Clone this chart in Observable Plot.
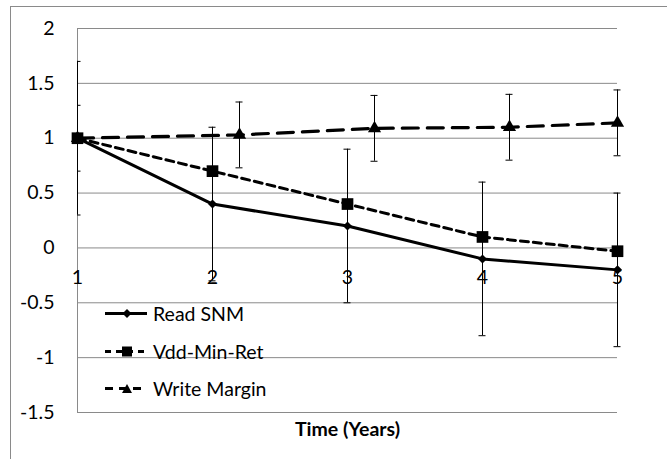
<!DOCTYPE html>
<html><head><meta charset="utf-8">
<script src="https://cdn.jsdelivr.net/npm/d3@7"></script>
<script src="https://cdn.jsdelivr.net/npm/@observablehq/plot@0.6"></script>
<style>
body{margin:0;background:#fff;font-family:Lato,sans-serif;}
#wrap{position:relative;width:667px;height:459px;overflow:hidden;}
#frame{position:absolute;left:10px;top:6px;width:700px;height:500px;border-left:1px solid #8a8a8a;border-top:1px solid #8a8a8a;}
#chart{position:absolute;left:0;top:0;}
#legend{position:absolute;left:103px;top:295px;font-size:19.5px;color:#000;}
.row{display:flex;align-items:center;height:37.5px;}
.row span{margin-left:2px;}
</style></head><body>
<div id="wrap"><div id="frame"></div><div id="chart"></div><div id="legend"></div></div>
<script>
// ---- data ----
const years = [1, 2, 3, 4, 5];
const readSNM = [1, 0.4, 0.2, -0.1, -0.2];
const readErr = [0.7, 0.7, 0.7, 0.7, 0.7];
const vddMinRet = [1, 0.7, 0.4, 0.1, -0.03];
const writeX = [1, 2.2, 3.2, 4.2, 5];
const writeMargin = [1, 1.03, 1.09, 1.10, 1.14];
const writeErr = [0.3, 0.3, 0.3, 0.3, 0.3];
const yTicks = [-1.5, -1, -0.5, 0, 0.5, 1, 1.5, 2];
const xTicks = [1, 2, 3, 4, 5];
const seriesNames = ["Read SNM", "Vdd-Min-Ret", "Write Margin"];
const xTitle = "Time (Years)";

// ---- tables ----
const readData = years.map((x, i) => ({x, y: readSNM[i], e: readErr[i]}));
const vddData = years.map((x, i) => ({x, y: vddMinRet[i]}));
const writeData = writeX.map((x, i) => ({x, y: writeMargin[i], e: writeErr[i]}));
const errData = [...readData, ...writeData];

const diamond = {draw(ctx, size) {const r = Math.sqrt(size / 2); ctx.moveTo(0, -r); ctx.lineTo(r, 0); ctx.lineTo(0, r); ctx.lineTo(-r, 0); ctx.closePath();}};
const grid = "#8a8a8a";
const capInner = errData.filter(d => d.x > 1);
const capEdge = errData.filter(d => d.x === 1);
const capMarks = (data, left) => [
  Plot.ruleY(data, {x1: "x", x2: "x", y: d => d.y + d.e, stroke: "#000", strokeWidth: 1, insetLeft: left, insetRight: -3.5}),
  Plot.ruleY(data, {x1: "x", x2: "x", y: d => d.y - d.e, stroke: "#000", strokeWidth: 1, insetLeft: left, insetRight: -3.5})
];

const chart = Plot.plot({
  width: 667, height: 459,
  marginLeft: 77, marginRight: 50, marginTop: 28, marginBottom: 47,
  style: {fontFamily: "Lato, sans-serif", fontSize: "19.5px", color: "#000", background: "transparent"},
  x: {domain: [1, 5], axis: null},
  y: {domain: [-1.5, 2], axis: null},
  marks: [
    Plot.gridY(yTicks, {stroke: grid, strokeOpacity: 1, strokeWidth: 1}),
    Plot.ruleX([1], {stroke: grid, strokeWidth: 1}),
    Plot.axisY(yTicks, {tickSize: 0, tickPadding: 23, tickFormat: d => String(d), label: null, fontSize: 19.5}),
    Plot.text(xTicks, {x: d => d, y: 0, text: d => String(d), dy: 30, fontSize: 19.5, fill: "#000"}),
    Plot.text([xTitle], {frameAnchor: "bottom", lineAnchor: "middle", dy: 17, fontWeight: "bold", fontSize: 19.5, fill: "#000"}),
    Plot.ruleX(errData, {x: "x", y1: d => d.y - d.e, y2: d => d.y + d.e, stroke: "#000", strokeWidth: 1}),
    ...capMarks(capInner, -3.5),
    ...capMarks(capEdge, 0),
    Plot.line(readData, {x: "x", y: "y", stroke: "#000", strokeWidth: 3}),
    Plot.line(writeData, {x: "x", y: "y", stroke: "#000", strokeWidth: 3.2, strokeDasharray: "16,9"}),
    Plot.line(vddData, {x: "x", y: "y", stroke: "#000", strokeWidth: 3, strokeDasharray: "8,5"}),
    Plot.dot(readData, {x: "x", y: "y", symbol: diamond, r: 3.6, fill: "#000"}),
    Plot.dot(writeData, {x: "x", y: "y", symbol: "triangle", r: 4.9, fill: "#000"}),
    Plot.dot(vddData, {x: "x", y: "y", symbol: "square", r: 6.6, fill: "#000"})
  ]
});
document.getElementById("chart").append(chart);

// ---- legend ----
const legendSpecs = [
  {dash: null, marker: "diamond"},
  {dash: "6,5", marker: "square"},
  {dash: "8,6", marker: "triangle"}
];
const legend = document.getElementById("legend");
seriesNames.forEach((name, i) => {
  const s = legendSpecs[i];
  const row = document.createElement("div");
  row.className = "row";
  let mk = "";
  if (s.marker === "diamond") mk = '<path d="M24,4 L28.5,8.5 L24,13 L19.5,8.5Z" fill="#000"/>';
  if (s.marker === "square") mk = '<rect x="19" y="3.5" width="10" height="10" fill="#000"/>';
  if (s.marker === "triangle") mk = '<path d="M24,4 L29,13 L19,13Z" fill="#000"/>';
  row.innerHTML = '<svg width="48" height="17"><line x1="2" x2="44" y1="8.5" y2="8.5" stroke="#000" stroke-width="3"' +
    (s.dash ? ' stroke-dasharray="' + s.dash + '"' : '') + '/>' + mk + '</svg><span>' + name + '</span>';
  legend.append(row);
});
</script>
</body></html>
